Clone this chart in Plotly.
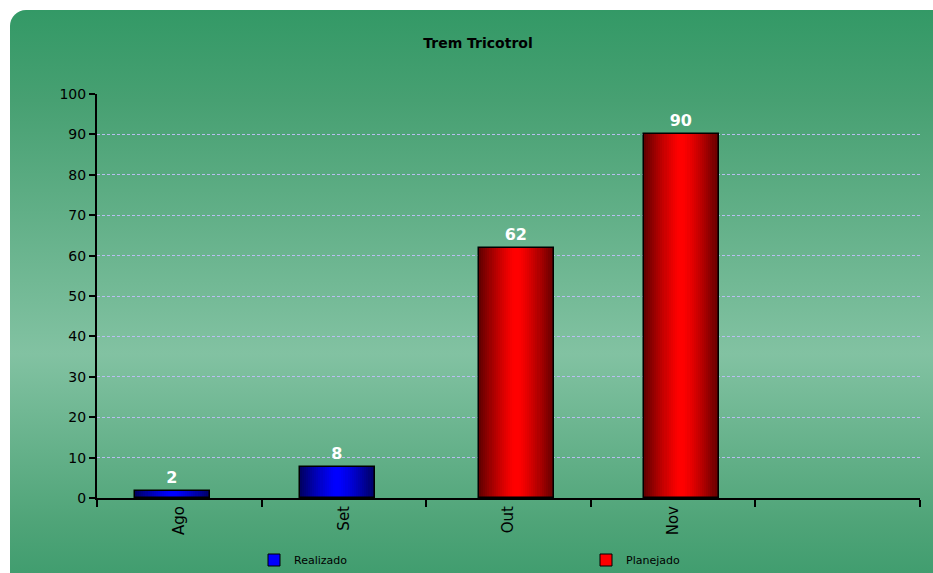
import base64
import plotly.graph_objects as go

# ---- data ----
categories = ["Ago", "Set", "Out", "Nov", " "]
realizado_x = ["Ago", "Set"]
realizado_y = [1.8, 7.7]
planejado_x = ["Out", "Nov"]
planejado_y = [62, 90]
y_ticks = list(range(0, 101, 10))

W, H = 933, 573
L, R, T, B = 97, 13, 94, 75
pw, ph = W - L - R, H - T - B

BAR_W = 0.456
OFF_REAL = -0.269
OFF_PLAN = -0.179

def lerp(c1, c2, t):
    return "rgb(%d,%d,%d)" % tuple(round(a + (b - a) * t) for a, b in zip(c1, c2))

fig = go.Figure()

def gradient_bars(xs, ys, offset, dark, bright, name, legend):
    n = 18
    for i in range(n):
        f = 1 - i / n  # width fraction
        t = min(1.0, (1 - f ** 1.3) * 1.05)
        w = BAR_W * f
        fig.add_trace(go.Bar(
            x=xs, y=ys, width=w, offset=offset + (BAR_W - w) / 2,
            marker=dict(color=lerp(dark, bright, t), line=dict(width=0)),
            showlegend=False, hoverinfo="skip", legend=legend,
        ))
    # outline + label
    fig.add_trace(go.Bar(
        x=xs, y=ys, width=BAR_W, offset=offset,
        marker=dict(color="rgba(0,0,0,0)", line=dict(color="black", width=1.5)),
        text=[f"{v:.0f}" for v in ys], textposition="outside",
        textfont=dict(color="white", size=16, family="DejaVu Sans", weight="bold"),
        cliponaxis=False, showlegend=False, name=name, legend=legend,
    ))
    # legend entry
    fig.add_trace(go.Bar(
        x=[None], y=[None], name=name, legend=legend,
        marker=dict(color=lerp(dark, bright, 1), line=dict(color="black", width=1)),
    ))

gradient_bars(realizado_x, realizado_y, OFF_REAL, (0, 0, 100), (0, 0, 255), "Realizado", "legend")
gradient_bars(planejado_x, planejado_y, OFF_PLAN, (100, 0, 0), (255, 0, 0), "Planejado", "legend2")

svg = f'''<svg xmlns="http://www.w3.org/2000/svg" width="{W}" height="{H}" viewBox="0 0 {W} {H}" preserveAspectRatio="none">
<defs><linearGradient id="g" x1="0" y1="0" x2="0" y2="1">
<stop offset="0" stop-color="#339966"/>
<stop offset="0.15" stop-color="#47a072"/>
<stop offset="0.57" stop-color="#82c2a2"/>
<stop offset="0.85" stop-color="#4fa478"/>
<stop offset="1" stop-color="#369868"/>
</linearGradient></defs>
<rect x="10" y="10" width="{W + 30}" height="{H + 30}" rx="16" ry="16" fill="url(#g)"/>
</svg>'''
src = "data:image/svg+xml;base64," + base64.b64encode(svg.encode()).decode()

leg_common = dict(orientation="h", yanchor="middle", xanchor="left",
                  y=-(560 - 498) / ph, font=dict(size=11, family="DejaVu Sans"),
                  bgcolor="rgba(0,0,0,0)", borderwidth=0)

fig.update_layout(
    width=W, height=H,
    margin=dict(l=L, r=R, t=T, b=B, autoexpand=False),
    paper_bgcolor="white", plot_bgcolor="rgba(0,0,0,0)",
    barmode="overlay",
    bargap=0,
    title=dict(text="<b>Trem Tricotrol</b>", x=(478 - L) / pw, xref="paper", xanchor="center",
               y=1 - 43 / H, yanchor="middle",
               font=dict(family="DejaVu Sans", size=14, color="black")),
    font=dict(family="DejaVu Sans", color="black"),
    images=[dict(source=src, xref="paper", yref="paper", x=-L / pw, y=1 + T / ph,
                 sizex=W / pw, sizey=H / ph, xanchor="left", yanchor="top",
                 sizing="stretch", layer="below")],
    legend=dict(x=(254 - L) / pw, **leg_common),
    legend2=dict(x=(586 - L) / pw, **leg_common),
    showlegend=True,
)
fig.update_xaxes(
    type="category", categoryorder="array", categoryarray=categories,
    range=[-0.5, 4.5], tickson="boundaries", ticks="outside", ticklen=7,
    tickcolor="black", tickwidth=2, showline=True, linecolor="black", linewidth=2,
    tickangle=-90, tickfont=dict(size=15), showgrid=False, fixedrange=True,
)
fig.update_yaxes(
    range=[0, 100], tickvals=y_ticks, ticks="outside", ticklen=6,
    tickcolor="black", tickwidth=2, showline=True, linecolor="black", linewidth=2,
    tickfont=dict(size=14), showgrid=True, gridcolor="#b9bdf0", griddash="3px,2px",
    gridwidth=1, zeroline=False,
)

fig.write_html("out.html")
